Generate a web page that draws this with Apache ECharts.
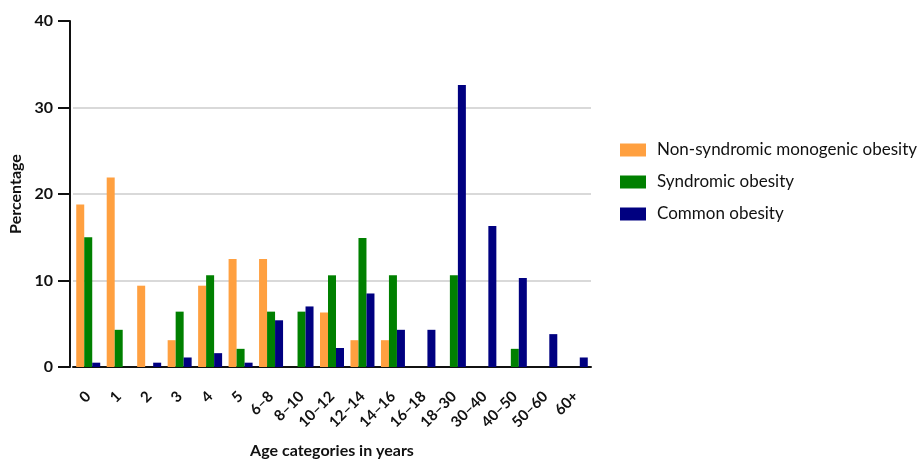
<!DOCTYPE html>
<html>
<head>
<meta charset="utf-8">
<script src="https://cdn.jsdelivr.net/npm/echarts@6/dist/echarts.min.js"></script>
<style>
html,body{margin:0;padding:0;background:#fff;}
#main{width:917px;height:462px;}
</style>
</head>
<body>
<div id="main"></div>
<script>
var categories = ['0','1','2','3','4','5','6–8','8–10','10–12','12–14','14–16','16–18','18–30','30–40','40–50','50–60','60+'];
var nonSyndromic = [18.8, 21.9, 9.4, 3.1, 9.4, 12.5, 12.5, 0, 6.3, 3.1, 3.1, 0, 0, 0, 0, 0, 0];
var syndromic = [15.0, 4.3, 0, 6.4, 10.6, 2.1, 6.4, 6.4, 10.6, 14.9, 10.6, 0, 10.6, 0, 2.1, 0, 0];
var common = [0.5, 0, 0.5, 1.1, 1.6, 0.5, 5.4, 7.0, 2.2, 8.5, 4.3, 4.3, 32.6, 16.3, 10.3, 3.8, 1.1];
var seriesNames = ['Non-syndromic monogenic obesity', 'Syndromic obesity', 'Common obesity'];

var font = 'Lato';
var myChart = echarts.init(document.getElementById('main'));

function zeroToNull(arr){
	return arr.map(function(v){ return v === 0 ? null : v; });
}

var option = {
	animation: false,
	textStyle: { fontFamily: font },
	legend: {
		orient: 'vertical',
		left: 615,
		top: 136,
		itemWidth: 26,
		itemHeight: 13,
		itemGap: 14,
		icon: 'rect',
		textStyle: { fontSize: 17, lineHeight: 18, color: '#111', fontFamily: font, padding: [0, 0, 0, 6] },
		data: seriesNames
	},
	grid: {
		left: 73,
		right: 326,
		top: 21,
		bottom: 95,
		outerBoundsMode: 'none',
		containLabel: false
	},
	xAxis: {
		type: 'category',
		data: categories,
		name: 'Age categories in years',
		nameLocation: 'middle',
		nameGap: 76,
		nameTextStyle: { fontSize: 16, fontWeight: 'bold', color: '#111', fontFamily: font },
		axisLine: { lineStyle: { color: '#111', width: 2 } },
		axisTick: { alignWithLabel: true, length: 13, lineStyle: { color: '#111', width: 2 } },
		axisLabel: { rotate: 45, margin: 27, fontSize: 15, fontWeight: 'bold', color: '#111', interval: 0 }
	},
	yAxis: {
		type: 'value',
		min: 0,
		max: 40,
		interval: 10,
		offset: 3,
		name: 'Percentage',
		nameLocation: 'middle',
		nameGap: 44,
		nameTextStyle: { fontSize: 16, fontWeight: 'bold', color: '#111', fontFamily: font },
		axisLine: { show: true, lineStyle: { color: '#111', width: 2 } },
		axisTick: { show: true, length: 12, lineStyle: { color: '#111', width: 2 } },
		axisLabel: { margin: 17, fontSize: 16, fontWeight: 'bold', color: '#111' },
		splitLine: { show: true, showMinLine: false, showMaxLine: false, lineStyle: { color: '#d9d9d9', width: 2 } }
	},
	series: [{
		name: seriesNames[0],
		type: 'bar',
		data: zeroToNull(nonSyndromic),
		barWidth: 8,
		barGap: '0%',
		itemStyle: { color: '#ffa040' }
	}, {
		name: seriesNames[1],
		type: 'bar',
		data: zeroToNull(syndromic),
		barWidth: 8,
		barGap: '0%',
		itemStyle: { color: '#008000' }
	}, {
		name: seriesNames[2],
		type: 'bar',
		data: zeroToNull(common),
		barWidth: 8,
		barGap: '0%',
		itemStyle: { color: '#000080' }
	}]
};
myChart.setOption(option);
</script>
</body>
</html>
